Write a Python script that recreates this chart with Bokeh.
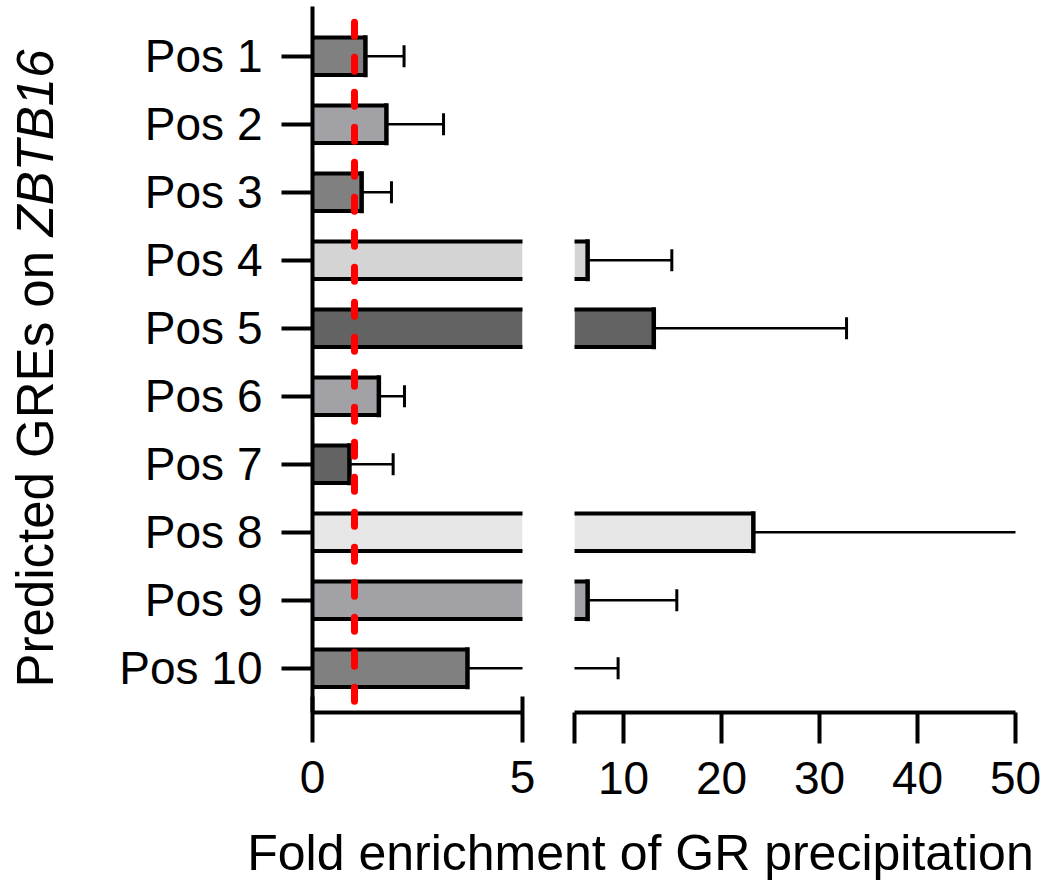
import numpy as np
from bokeh.plotting import figure
from bokeh.layouts import row, column
from bokeh.models import Range1d, FixedTicker, Label, ColumnDataSource, CDSView, BooleanFilter
from bokeh.embed import file_html
from bokeh.resources import INLINE

# ---------------- data ----------------
categories = ["Pos 1", "Pos 2", "Pos 3", "Pos 4", "Pos 5",
              "Pos 6", "Pos 7", "Pos 8", "Pos 9", "Pos 10"]
fold_enrichment = [1.26, 1.76, 1.17, 6.34, 13.09, 1.58, 0.88, 23.25, 6.34, 3.69]
error_plus = [0.92, 1.36, 0.71, 8.59, 19.67, 0.61, 1.04, 28.75, 9.10, 5.76]
bar_colors = ["#808080", "#a1a1a6", "#808080", "#d4d4d4", "#636363",
              "#a1a1a6", "#636363", "#e6e6e6", "#a1a1a6", "#808080"]
left_ticks = [0, 5]
right_ticks = [5, 10, 20, 30, 40, 50]
threshold = 1.0
x_title = "Fold enrichment of GR precipitation"
y_title_plain = "Predicted GREs on"
y_title_gene = "ZBTB16"

# ---------------- derived ----------------
BAR_H = 0.55
positions = list(range(1, len(categories) + 1))
upper = [m + e for m, e in zip(fold_enrichment, error_plus)]
src = ColumnDataSource(dict(
    y=positions, mean=fold_enrichment, upper=upper, color=bar_colors,
    y_top=[p - BAR_H / 2 for p in positions],
    y_bot=[p + BAR_H / 2 for p in positions],
    zero=[0] * len(positions),
))

FONT = "Liberation Sans"
TICK_FS = "46px"

y_range = Range1d(start=positions[-1] + 0.651, end=positions[0] - 0.731)

FRAME_TOP = 6
BORDER_BOTTOM = 106
FIG_H = FRAME_TOP + 706 + BORDER_BOTTOM
TITLE_H = 894 - FIG_H


def style_common(p):
    p.grid.visible = False
    p.outline_line_color = None
    p.background_fill_color = "white"
    p.border_fill_color = "white"


def style_xaxis(ax):
    ax.axis_line_width = 4
    ax.axis_line_color = "black"
    ax.major_tick_line_width = 4
    ax.major_tick_line_color = "black"
    ax.minor_tick_line_color = None
    ax.major_label_text_font = FONT
    ax.major_label_text_font_size = TICK_FS
    ax.major_label_text_color = "black"
    ax.major_label_standoff = 18


def draw_bars(p, lo, hi):
    vis_bar = CDSView(filter=BooleanFilter([m > lo for m in fold_enrichment]))
    vis_end = CDSView(filter=BooleanFilter([lo < m < hi for m in fold_enrichment]))
    vis_err = CDSView(filter=BooleanFilter([(m < hi) and (u > lo)
                                            for m, u in zip(fold_enrichment, upper)]))
    vis_cap = CDSView(filter=BooleanFilter([lo <= u <= hi for u in upper]))
    # bar fill
    p.hbar(y="y", left=0, right="mean", height=BAR_H, source=src, view=vis_bar,
           fill_color="color", line_color=None)
    # top / bottom outline edges
    p.segment(x0="zero", y0="y_top", x1="mean", y1="y_top", source=src, view=vis_bar,
              line_color="black", line_width=4)
    p.segment(x0="zero", y0="y_bot", x1="mean", y1="y_bot", source=src, view=vis_bar,
              line_color="black", line_width=4)
    # closing edge at bar end
    p.segment(x0="mean", y0="y_top", x1="mean", y1="y_bot", source=src, view=vis_end,
              line_color="black", line_width=4.5, line_cap="square")
    # error bars
    p.segment(x0="mean", y0="y", x1="upper", y1="y", source=src, view=vis_err,
              line_color="black", line_width=2.5)
    p.scatter(x="upper", y="y", source=src, view=vis_cap, marker="dash", size=22,
              angle=np.pi / 2, line_color="black", line_width=3)


# ---------------- left panel (0-5) ----------------
p1 = figure(width=480, height=FIG_H, x_range=Range1d(left_ticks[0], left_ticks[-1]),
            y_range=y_range, output_backend="svg", toolbar_location=None,
            min_border_left=244, min_border_right=26, min_border_top=FRAME_TOP,
            min_border_bottom=BORDER_BOTTOM)
style_common(p1)
draw_bars(p1, left_ticks[0], left_ticks[-1])
p1.segment(x0=[threshold], y0=[positions[0] - 0.5], x1=[threshold], y1=[positions[-1] + 0.5],
           line_color="#ff0000", line_width=7, line_dash="14 21", line_cap="round")

style_xaxis(p1.xaxis[0])
p1.xaxis[0].ticker = FixedTicker(ticks=left_ticks)
p1.xaxis[0].major_tick_in = 16
p1.xaxis[0].major_tick_out = 30

ya = p1.yaxis[0]
ya.ticker = FixedTicker(ticks=positions)
ya.major_label_overrides = {pos: c for pos, c in zip(positions, categories)}
ya.axis_line_width = 4
ya.axis_line_color = "black"
ya.major_tick_line_width = 4
ya.major_tick_in = 0
ya.major_tick_out = 31
ya.minor_tick_line_color = None
ya.major_label_text_font = FONT
ya.major_label_text_font_size = TICK_FS
ya.major_label_text_color = "black"
ya.major_label_standoff = 19

# ---------------- right panel (5-50) ----------------
p2 = figure(width=497, height=FIG_H, x_range=Range1d(right_ticks[0], right_ticks[-1]),
            y_range=y_range, output_backend="svg", toolbar_location=None,
            y_axis_location=None,
            min_border_left=26, min_border_right=30, min_border_top=FRAME_TOP,
            min_border_bottom=BORDER_BOTTOM)
style_common(p2)
draw_bars(p2, right_ticks[0], right_ticks[-1])
style_xaxis(p2.xaxis[0])
p2.xaxis[0].ticker = FixedTicker(ticks=right_ticks)
p2.xaxis[0].major_label_overrides = {right_ticks[0]: ""}
p2.xaxis[0].major_tick_in = 0
p2.xaxis[0].major_tick_out = 31

# ---------------- y title panel ----------------
pY = figure(width=68, height=FIG_H, x_range=Range1d(0, 68), y_range=Range1d(0, 706),
            x_axis_location=None, y_axis_location=None, output_backend="svg",
            toolbar_location=None, min_border_left=0, min_border_right=0,
            min_border_top=FRAME_TOP, min_border_bottom=BORDER_BOTTOM)
style_common(pY)
pY.add_layout(Label(x=35, y=25, text=y_title_plain, angle=np.pi / 2,
                    text_align="left", text_baseline="middle",
                    text_font=FONT, text_font_size="51px", text_color="black"))
pY.add_layout(Label(x=35, y=25 + 451, text=y_title_gene, angle=np.pi / 2,
                    text_align="left", text_baseline="middle",
                    text_font=FONT, text_font_size="51px", text_font_style="italic",
                    text_color="black"))

# ---------------- x title panel ----------------
pX = figure(width=1045, height=TITLE_H, x_range=Range1d(0, 1045),
            y_range=Range1d(0, TITLE_H),
            x_axis_location=None, y_axis_location=None, output_backend="svg",
            toolbar_location=None, min_border=0)
style_common(pX)
pX.add_layout(Label(x=640, y=TITLE_H - (852 - FIG_H), text=x_title, text_align="center",
                    text_baseline="middle", text_font=FONT,
                    text_font_size="50px", text_color="black"))

layout = column(row(pY, p1, p2), pX)
open("out.html", "w").write(file_html(layout, INLINE))
